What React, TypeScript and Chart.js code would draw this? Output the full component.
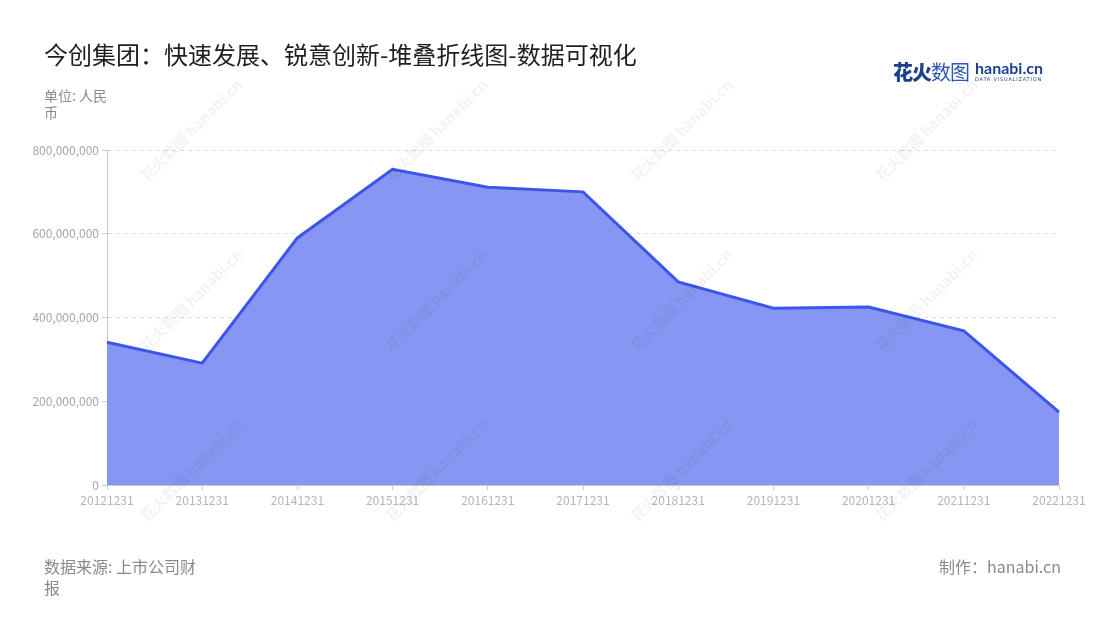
import React, { useEffect, useRef } from "react";
import { Chart, registerables } from "chart.js";

Chart.register(...registerables);

const categories = [
  "20121231", "20131231", "20141231", "20151231", "20161231", "20171231",
  "20181231", "20191231", "20201231", "20211231", "20221231",
];
const revenue = [
  341000000, 291000000, 590000000, 754000000, 711000000, 700000000,
  485000000, 422000000, 425000000, 368000000, 174000000,
];
const yTicks = [0, 200000000, 400000000, 600000000, 800000000];

const FONT = "'Noto Sans CJK SC', 'Noto Sans', sans-serif";

const watermarkCols = [185, 430, 675, 920];
const watermarkRows = [135, 305, 475];

export default function App() {
  const ref = useRef<HTMLCanvasElement | null>(null);

  useEffect(() => {
    document.body.style.margin = "0";
    const canvas = ref.current;
    if (!canvas) return;
    const chart = new Chart(canvas, {
      type: "line",
      data: {
        labels: categories,
        datasets: [
          {
            label: "营业收入",
            data: revenue,
            borderColor: "#3d55e8",
            backgroundColor: "rgba(135,150,242,1)",
            borderWidth: 3,
            fill: "origin",
            tension: 0,
            pointRadius: 0,
            pointHoverRadius: 0,
          },
        ],
      },
      options: {
        animation: false,
        responsive: false,
        maintainAspectRatio: false,
        layout: { padding: { left: 0, right: 41, top: 150, bottom: 95 } },
        plugins: {
          legend: { display: false },
          tooltip: { enabled: false },
          title: { display: false },
        },
        scales: {
          x: {
            offset: false,
            grid: {
              drawOnChartArea: false,
              drawTicks: true,
              tickLength: 5,
              color: "#cccccc",
            },
            border: { display: true, color: "#c8c8c8", width: 1 },
            ticks: {
              color: "#b4b4be",
              font: { family: FONT, size: 12 },
              padding: 3,
              maxRotation: 0,
              autoSkip: false,
            },
            afterFit: (scale: any) => {
              scale.height = 40;
            },
          },
          y: {
            min: 0,
            max: 800000000,
            afterBuildTicks: (scale: any) => {
              scale.ticks = yTicks.map((v) => ({ value: v }));
            },
            grid: {
              color: "#dddddd",
              drawTicks: true,
              tickLength: 5,
              tickColor: "#cccccc",
              tickBorderDash: [],
            },
            border: { display: true, color: "#c8c8c8", width: 1, dash: [4, 4] },
            ticks: {
              color: "#a6a6a6",
              font: { family: FONT, size: 12 },
              padding: 3,
              callback: (v: any) => Number(v).toLocaleString("en-US"),
            },
            afterFit: (scale: any) => {
              scale.width = 107;
            },
          },
        },
      },
    });
    return () => chart.destroy();
  }, []);

  const grey = "#8a8a8a";

  return (
    <div
      style={{
        position: "relative",
        width: 1100,
        height: 620,
        background: "#ffffff",
        overflow: "hidden",
        fontFamily: FONT,
      }}
    >
      {watermarkRows.map((y) =>
        watermarkCols.map((x) => (
          <div
            key={`${x}-${y}`}
            style={{
              position: "absolute",
              left: x - 60,
              top: y - 10,
              width: 120,
              textAlign: "center",
              transform: "rotate(-45deg)",
              color: "rgba(0,0,0,0.05)",
              fontSize: 15,
              fontWeight: 700,
              whiteSpace: "nowrap",
              pointerEvents: "none",
              zIndex: 2,
            }}
          >
            花火数图 hanabi.cn
          </div>
        ))
      )}
      <canvas
        ref={ref}
        width={1100}
        height={620}
        style={{ position: "absolute", left: 0, top: 0, zIndex: 1 }}
      />
      <div
        style={{
          position: "absolute",
          left: 44,
          top: 37,
          fontSize: 24,
          color: "#1f1f1f",
          lineHeight: "34px",
          whiteSpace: "nowrap",
          zIndex: 3,
        }}
      >
        今创集团：快速发展、锐意创新-堆叠折线图-数据可视化
      </div>
      <div
        style={{
          position: "absolute",
          left: 44,
          top: 87,
          fontSize: 14,
          color: grey,
          lineHeight: "17px",
          zIndex: 3,
        }}
      >
        单位: 人民
        <br />币
      </div>
      <div
        style={{
          position: "absolute",
          left: 893,
          top: 57,
          display: "flex",
          alignItems: "center",
          zIndex: 3,
          whiteSpace: "nowrap",
        }}
      >
        <span style={{ fontSize: 20, fontWeight: 900, color: "#1d3f8f", letterSpacing: -1 }}>
          花火
        </span>
        <span style={{ fontSize: 20, fontWeight: 400, color: "#2b59b5", letterSpacing: -1 }}>
          数图
        </span>
        <span style={{ display: "inline-flex", flexDirection: "column", marginLeft: 6 }}>
          <span
            style={{
              fontFamily: "Lato, 'Noto Sans', sans-serif",
              fontSize: 16,
              fontWeight: 700,
              color: "#1d3f8f",
              lineHeight: "16px",
            }}
          >
            hanabi.cn
          </span>
          <span
            style={{
              fontFamily: "'DejaVu Sans', sans-serif",
              fontSize: 5,
              color: "#1d3f8f",
              lineHeight: "7px",
              letterSpacing: 0.8,
            }}
          >
            DATA VISUALIZATION
          </span>
        </span>
      </div>
      <div
        style={{
          position: "absolute",
          left: 44,
          top: 556,
          fontSize: 16,
          color: grey,
          lineHeight: "21px",
          zIndex: 3,
        }}
      >
        数据来源: 上市公司财
        <br />报
      </div>
      <div
        style={{
          position: "absolute",
          right: 39,
          top: 556,
          fontSize: 16,
          color: grey,
          lineHeight: "21px",
          whiteSpace: "nowrap",
          zIndex: 3,
        }}
      >
        制作：hanabi.cn
      </div>
    </div>
  );
}
